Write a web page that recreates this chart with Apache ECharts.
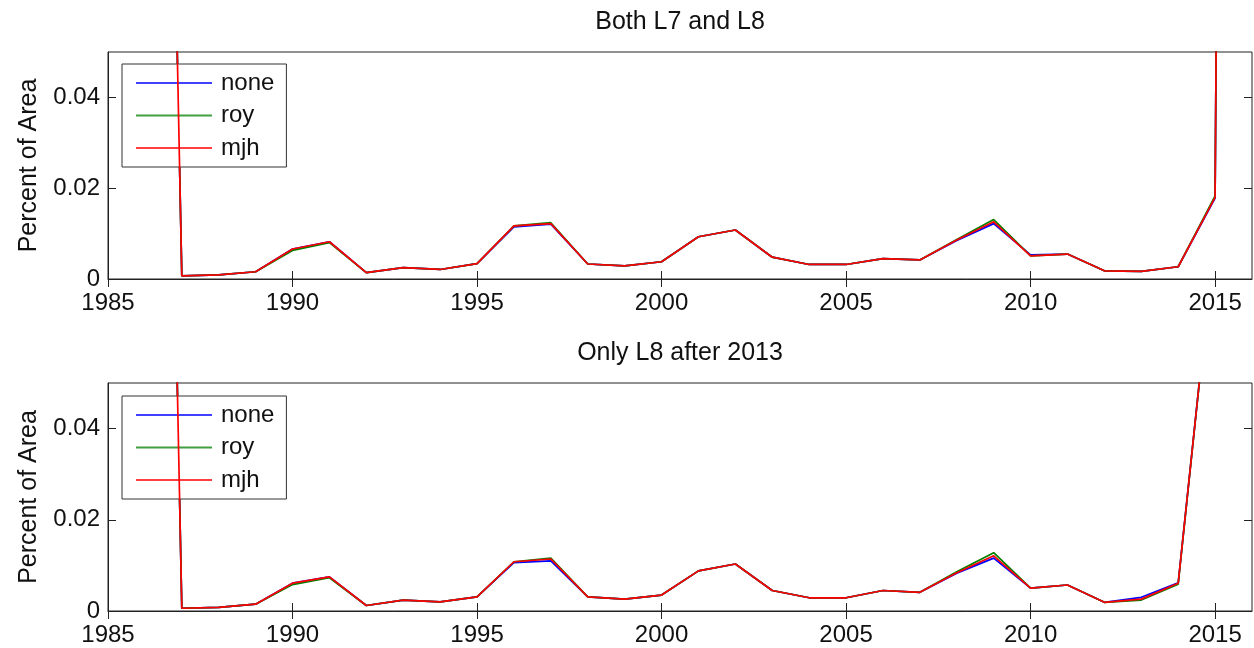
<!DOCTYPE html>
<html>
<head>
<meta charset="utf-8">
<script src="https://cdn.jsdelivr.net/npm/echarts@6/dist/echarts.min.js"></script>
<style>html,body{margin:0;padding:0;background:#fff}#c{width:1254px;height:648px}</style>
</head>
<body>
<div id="c"></div>
<script>
var years = [1986,1987,1988,1989,1990,1991,1992,1993,1994,1995,1996,1997,1998,1999,2000,2001,2002,2003,2004,2005,2006,2007,2008,2009,2010,2011,2012,2013,2014,2015,2016];
var titles = ['Both L7 and L8', 'Only L8 after 2013'];
var seriesNames = ['none', 'roy', 'mjh'];
var xTicks = [1985, 1990, 1995, 2000, 2005, 2010, 2015];
var yTicks = [0, 0.02, 0.04];

// Top panel: Both L7 and L8
var none1 = [0.4,0.0007,0.0009,0.0016,0.0066,0.0082,0.0014,0.0025,0.0021,0.0034,0.0115,0.0121,0.0033,0.0029,0.0038,0.0093,0.0108,0.0048,0.0032,0.0032,0.0045,0.0042,0.0085,0.0122,0.0053,0.0055,0.0018,0.0017,0.0027,0.0178,1.2];
var roy1  = [0.4,0.0007,0.0009,0.0016,0.0063,0.0080,0.0014,0.0025,0.0021,0.0034,0.0117,0.0124,0.0033,0.0029,0.0038,0.0093,0.0108,0.0048,0.0032,0.0032,0.0045,0.0042,0.0087,0.0131,0.0051,0.0055,0.0018,0.0017,0.0027,0.0183,1.2];
var mjh1  = [0.4,0.0007,0.0009,0.0016,0.0066,0.0082,0.0014,0.0025,0.0021,0.0034,0.0117,0.0122,0.0033,0.0029,0.0038,0.0093,0.0108,0.0048,0.0032,0.0032,0.0045,0.0042,0.0086,0.0126,0.0051,0.0055,0.0018,0.0017,0.0027,0.0180,1.2];

// Bottom panel: Only L8 after 2013
var none2 = [0.4,0.0006,0.0008,0.0015,0.0061,0.0075,0.0012,0.0024,0.0020,0.0031,0.0106,0.0110,0.0031,0.0026,0.0035,0.0088,0.0103,0.0045,0.0029,0.0029,0.0045,0.0041,0.0083,0.0116,0.0050,0.0057,0.0019,0.0030,0.0062,0.083,1.2];
var roy2  = [0.4,0.0006,0.0008,0.0015,0.0058,0.0073,0.0012,0.0024,0.0020,0.0031,0.0108,0.0116,0.0031,0.0026,0.0035,0.0088,0.0103,0.0045,0.0029,0.0029,0.0045,0.0041,0.0086,0.0128,0.0050,0.0057,0.0019,0.0024,0.0059,0.083,1.2];
var mjh2  = [0.4,0.0006,0.0008,0.0015,0.0061,0.0075,0.0012,0.0024,0.0020,0.0031,0.0108,0.0114,0.0031,0.0026,0.0035,0.0088,0.0103,0.0045,0.0029,0.0029,0.0045,0.0041,0.0084,0.0121,0.0050,0.0057,0.0019,0.0026,0.0061,0.083,1.2];

var colors = ['#0000ff', '#008000', '#ff0000'];
var FONT = 'Liberation Sans, Arial, sans-serif';
var panels = [[none1, roy1, mjh1], [none2, roy2, mjh2]];
var gridTops = [52, 383];
var gridH = [227, 228];
var titleTops = [10, 341];
var legendTops = [64, 396];

function pairs(vals) { return years.map(function (y, i) { return [y, vals[i]]; }); }

var option = {
  animation: false,
  backgroundColor: '#fff',
  title: [],
  legend: [],
  grid: [],
  xAxis: [],
  yAxis: [],
  series: []
};

var tickStyle = { show: true, inside: true, length: 8, lineStyle: { color: '#222', width: 1 } };

panels.forEach(function (panel, p) {
  option.title.push({
    text: titles[p], left: 680, top: titleTops[p], textAlign: 'center', padding: 0,
    textStyle: { fontFamily: FONT, fontSize: 25, fontWeight: 'normal', color: '#111' }
  });
  option.grid.push({
    left: 108, right: 2, top: gridTops[p], height: gridH[p],
    show: true, borderColor: '#222', borderWidth: 1, backgroundColor: '#fff'
  });
  option.xAxis.push({
    type: 'value', gridIndex: p, min: 1985, max: 2016, interval: 5,
    axisLine: { show: true, onZero: false, lineStyle: { color: '#222', width: 1 } },
    axisTick: Object.assign({ customValues: xTicks }, tickStyle),
    splitLine: { show: false },
    axisLabel: {
      customValues: xTicks,
      margin: 12, fontFamily: FONT, fontSize: 24, color: '#111',
      formatter: function (v) { return xTicks.indexOf(v) >= 0 ? String(v) : ''; }
    }
  });
  option.xAxis.push({
    type: 'value', gridIndex: p, position: 'top', min: 1985, max: 2016, interval: 5,
    axisLine: { show: false }, splitLine: { show: false }, axisLabel: { show: false },
    axisTick: Object.assign({ customValues: xTicks }, tickStyle)
  });
  option.yAxis.push({
    type: 'value', gridIndex: p, min: 0, max: 0.05, interval: 0.02,
    name: 'Percent of Area', nameLocation: 'middle', nameGap: 66,
    nameTextStyle: { fontFamily: FONT, fontSize: 25, color: '#111' },
    axisLine: { show: true, lineStyle: { color: '#222', width: 1 } },
    axisTick: Object.assign({ customValues: yTicks }, tickStyle),
    splitLine: { show: false },
    axisLabel: {
      customValues: yTicks,
      margin: 8, fontFamily: FONT, fontSize: 24, color: '#111',
      formatter: function (v) {
        for (var k = 0; k < yTicks.length; k++) if (Math.abs(v - yTicks[k]) < 1e-9) return String(yTicks[k]);
        return '';
      }
    }
  });
  option.yAxis.push({
    type: 'value', gridIndex: p, position: 'right', min: 0, max: 0.05, interval: 0.02,
    axisLine: { show: false }, splitLine: { show: false }, axisLabel: { show: false },
    axisTick: Object.assign({ customValues: yTicks }, tickStyle)
  });
  panel.forEach(function (vals, s) {
    option.series.push({
      name: seriesNames[s], type: 'line',
      xAxisIndex: 2 * p, yAxisIndex: 2 * p,
      data: pairs(vals), symbol: 'none', showSymbol: false, clip: true, z: 2 + s,
      lineStyle: { color: colors[s], width: 1.7 }, itemStyle: { color: colors[s] }
    });
  });
  option.legend.push({
    orient: 'vertical', left: 122, top: legendTops[p],
    data: seriesNames.map(function (n, s) { return { name: n, icon: 'rect', itemStyle: { color: colors[s], opacity: 0.75 } }; }),
    itemWidth: 76, itemHeight: 2, itemGap: 8.5,
    padding: [7, 12, 7, 14],
    borderColor: '#333', borderWidth: 1, backgroundColor: '#fff',
    textStyle: { fontFamily: FONT, fontSize: 24, color: '#111', padding: [0, 0, 0, 4], lineHeight: 24 },
    selectedMode: false
  });
});

var chart = echarts.init(document.getElementById('c'), null, { renderer: 'canvas' });
chart.setOption(option);
</script>
</body>
</html>
